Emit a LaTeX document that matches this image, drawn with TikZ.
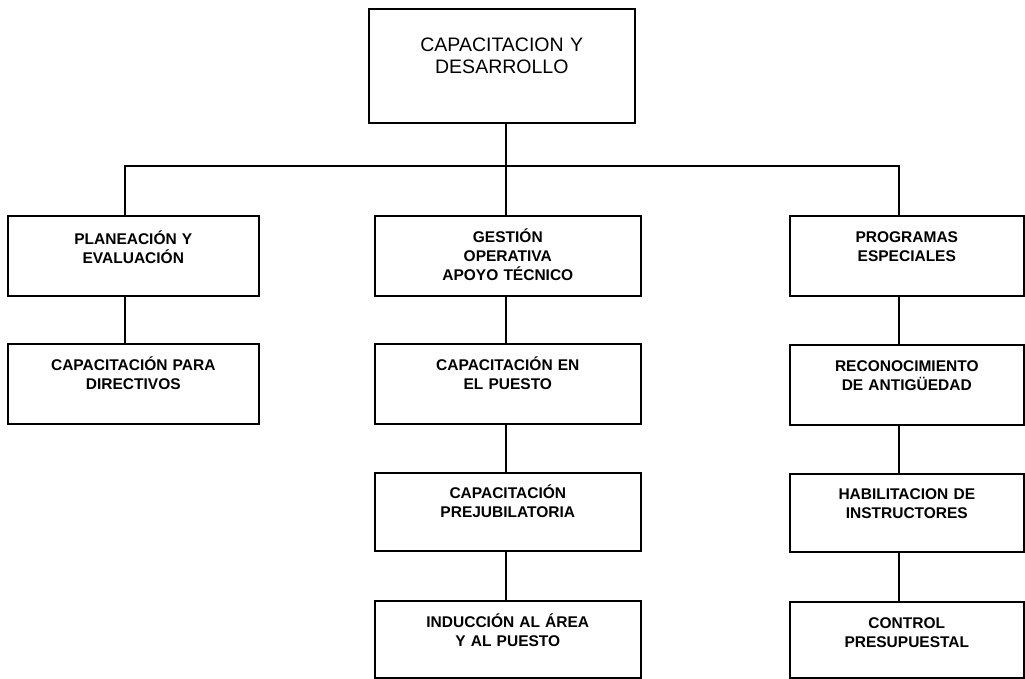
\documentclass[tikz,border=0pt]{standalone}
\usepackage{fontspec}
\setmainfont{Liberation Sans}
\usetikzlibrary{positioning,calc}

\begin{document}
\begin{tikzpicture}[x=1pt,y=-1pt,
    box/.style={draw, line width=1.6pt, anchor=north west, inner sep=0pt},
    lbl/.style={anchor=base, align=center, text width=225pt, inner sep=0pt,
      font=\bfseries\fontsize{15.5}{19}\selectfont},
    link/.style={line width=1.6pt}]
  \useasboundingbox (0,0) rectangle (1025,679);

  % Top box
  \node[box, minimum width=266pt, minimum height=114pt] (cap) at (368,8) {};
  \node[lbl, font=\fontsize{19.5}{22}\selectfont] (cap-t) at ([yshift=-44pt]cap.north) {CAPACITACION Y\\DESARROLLO};

  % First level
  \node[box, minimum width=251pt, minimum height=80pt] (plan) at (7,215) {};
  \node[lbl] (plan-t) at ([yshift=-29pt]plan.north) {PLANEACIÓN Y\\EVALUACIÓN};
  \node[box, minimum width=266pt, minimum height=80pt] (gest) at (374,215) {};
  \node[lbl] (gest-t) at ([yshift=-28pt]gest.north) {GESTIÓN\\OPERATIVA\\APOYO TÉCNICO};
  \node[box, minimum width=234pt, minimum height=80pt] (prog) at (789,215) {};
  \node[lbl] (prog-t) at ([yshift=-28pt]prog.north) {PROGRAMAS\\ESPECIALES};

  % Second level
  \node[box, minimum width=251pt, minimum height=80pt] (dir) at (7,343) {};
  \node[lbl] (dir-t) at ([yshift=-27pt]dir.north) {CAPACITACIÓN PARA\\DIRECTIVOS};
  \node[box, minimum width=266pt, minimum height=80pt] (puesto) at (374,343) {};
  \node[lbl] (puesto-t) at ([yshift=-27pt]puesto.north) {CAPACITACIÓN EN\\EL PUESTO};
  \node[box, minimum width=234pt, minimum height=80pt] (antig) at (789,344) {};
  \node[lbl] (antig-t) at ([yshift=-27pt]antig.north) {RECONOCIMIENTO\\DE ANTIGÜEDAD};

  % Third level
  \node[box, minimum width=266pt, minimum height=78pt] (prejub) at (374,472) {};
  \node[lbl] (prejub-t) at ([yshift=-26pt]prejub.north) {CAPACITACIÓN\\PREJUBILATORIA};
  \node[box, minimum width=234pt, minimum height=78pt] (instr) at (789,473) {};
  \node[lbl] (instr-t) at ([yshift=-26pt]instr.north) {HABILITACION DE\\INSTRUCTORES};

  % Fourth level
  \node[box, minimum width=266pt, minimum height=77pt] (induc) at (374,600) {};
  \node[lbl] (induc-t) at ([yshift=-27pt]induc.north) {INDUCCIÓN AL ÁREA\\Y AL PUESTO};
  \node[box, minimum width=234pt, minimum height=76pt] (presup) at (789,601) {};
  \node[lbl] (presup-t) at ([yshift=-27pt]presup.north) {CONTROL\\PRESUPUESTAL};

  % Connectors
  \coordinate (busL) at (125,166);
  \coordinate (busM) at (506,166);
  \coordinate (busR) at (899,166);
  \draw[link] (busM |- cap.south) -- (busM);
  \draw[link] (busL |- plan.north) -- (busL) -- (busR) -- (busR |- prog.north);
  \draw[link] (busM) -- (busM |- gest.north);
  \foreach \a/\b/\c in {plan/dir/busL, gest/puesto/busM, puesto/prejub/busM,
      prejub/induc/busM, prog/antig/busR, antig/instr/busR, instr/presup/busR}
    \draw[link] (\c |- \a.south) -- (\c |- \b.north);
\end{tikzpicture}
\end{document}
